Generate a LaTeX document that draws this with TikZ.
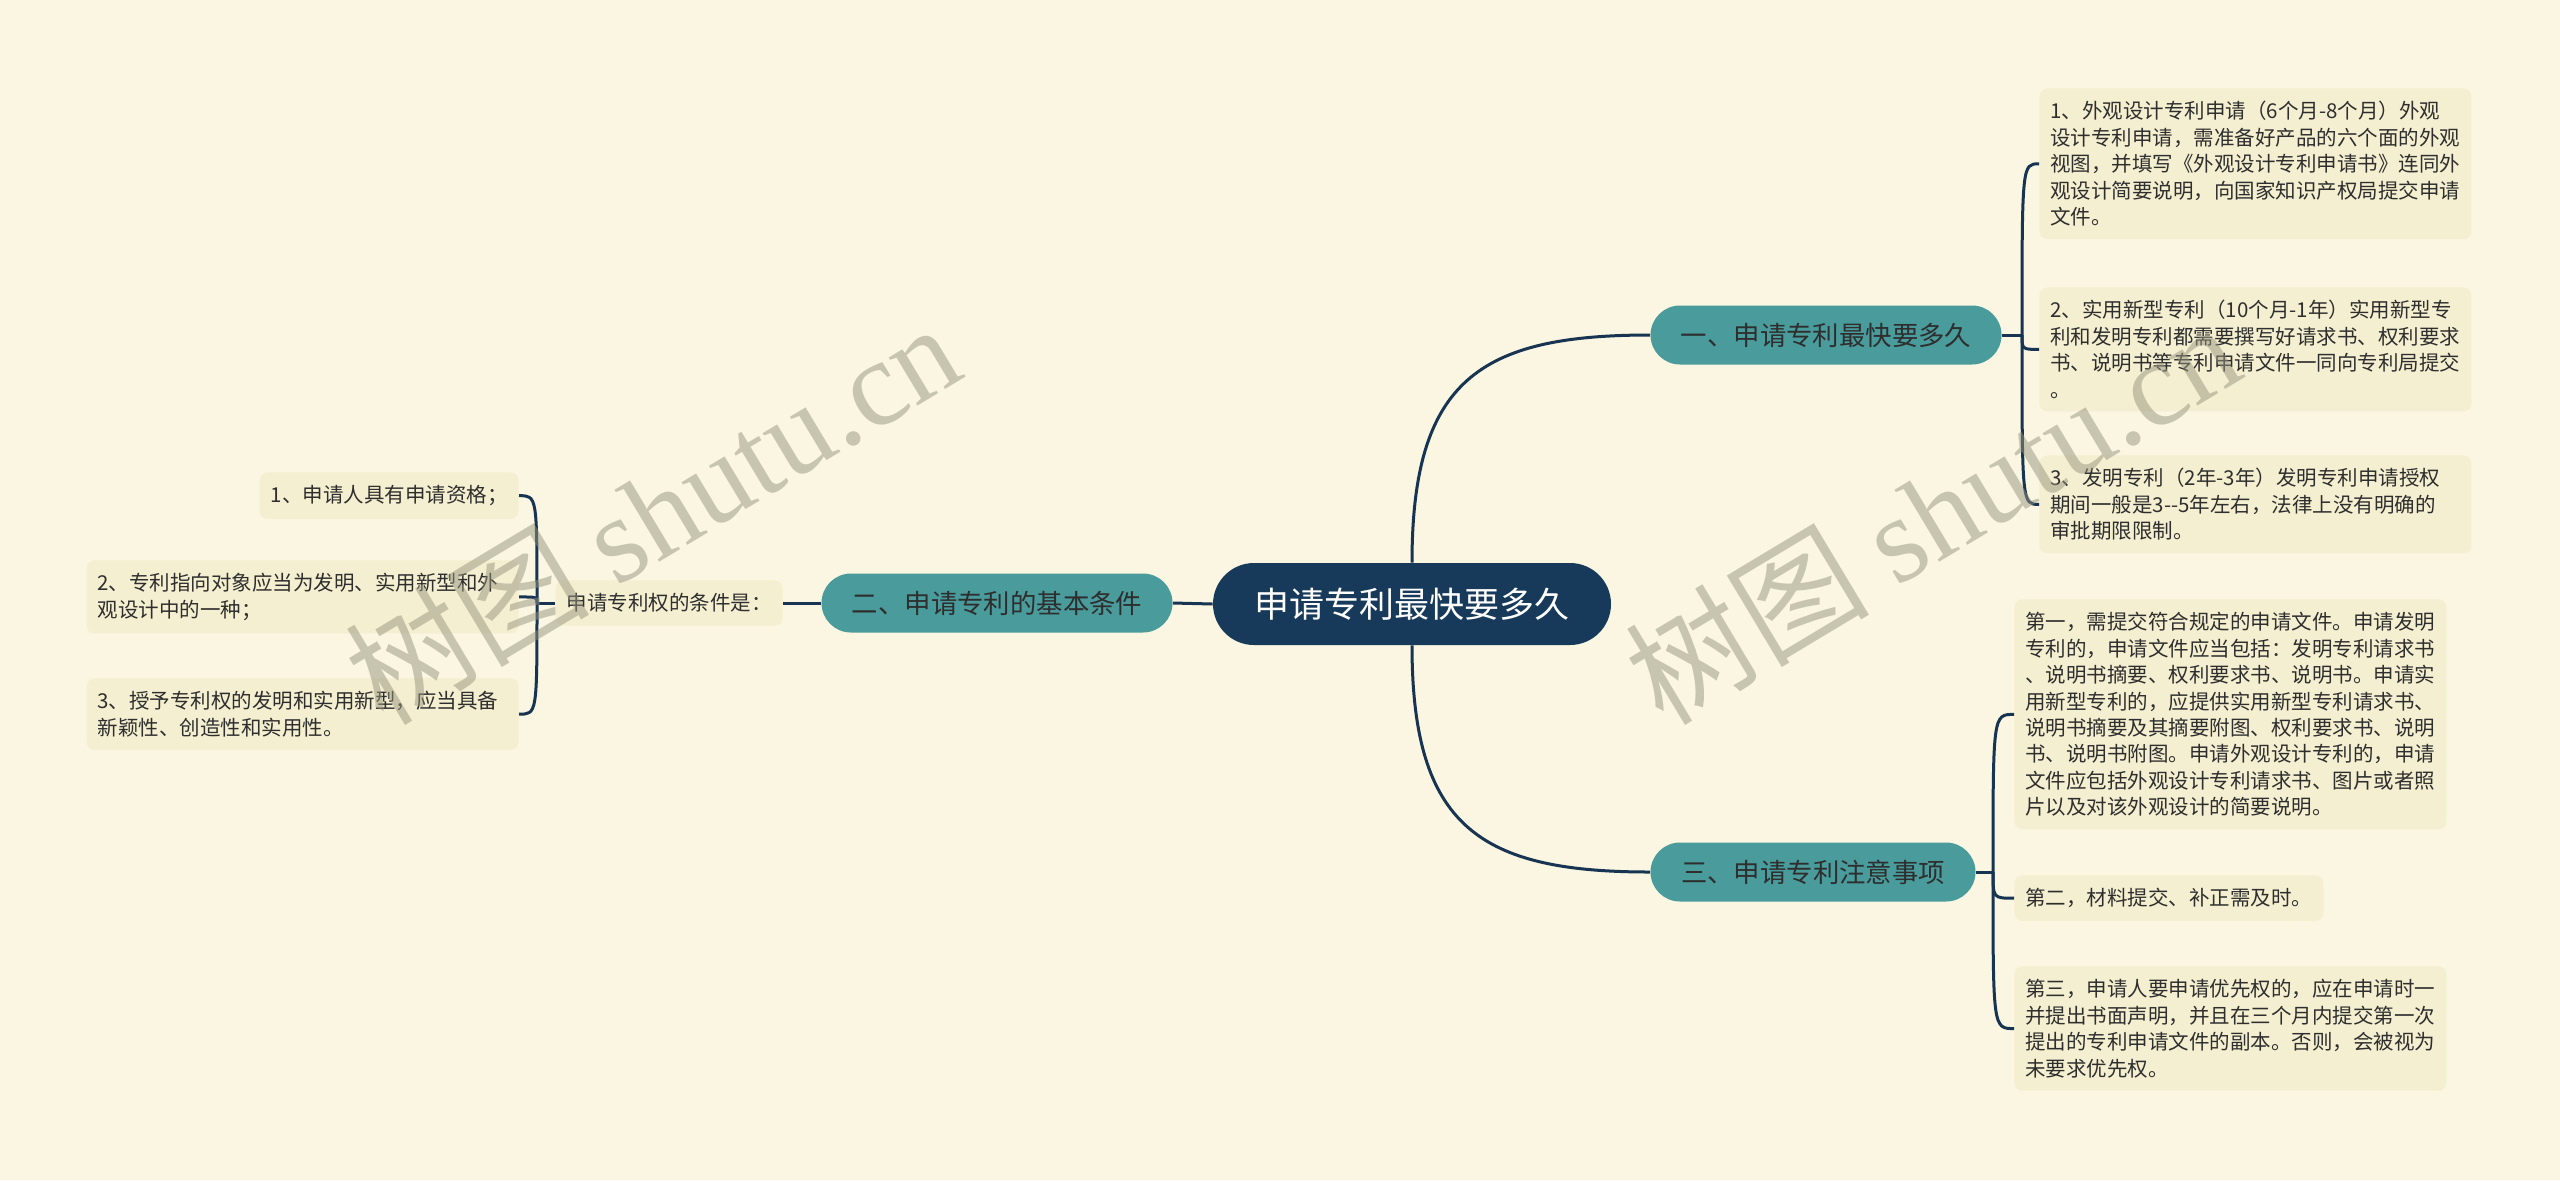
\documentclass[tikz,border=0pt]{standalone}
\usepackage{fontspec}
\setmainfont{Noto Sans CJK SC}
\newfontfamily\wmfont{Liberation Serif}
\definecolor{bg}{HTML}{FAF6E1}
\definecolor{leaffill}{HTML}{F4EFD0}
\definecolor{tealnode}{HTML}{4A9B9B}
\definecolor{rootc}{HTML}{173A5A}
\definecolor{linec}{HTML}{173452}
\definecolor{txt}{HTML}{2E2E2E}
\definecolor{wmc}{HTML}{96947F}
\tikzset{
  conn/.style={draw=linec, line width=1.5pt},
  leaf/.style={fill=leaffill, rounded corners=4pt, text=txt, align=left,
    inner xsep=5.5pt, inner ysep=6.5pt, font=\fontsize{10.25pt}{13.2pt}\selectfont},
  leafw/.style={leaf, text width=205pt},
  topic/.style={fill=tealnode, rounded corners=14.75pt, text=txt, minimum height=29.5pt,
    inner sep=0pt, font=\fontsize{13.2pt}{16pt}\selectfont},
  rootbox/.style={fill=rootc, rounded corners=20.5pt, text=white, minimum width=199pt,
    minimum height=41pt, inner sep=0pt, font=\fontsize{17.5pt}{20pt}\selectfont},
  wm/.style={text=wmc, opacity=0.5, font=\fontsize{61pt}{66pt}\selectfont, inner sep=0pt}
}
\begin{document}
\begin{tikzpicture}[x=0.5pt, y=-0.5pt]
\fill[bg] (0,0) rectangle (2560,1180);
\useasboundingbox (0,0) rectangle (2560,1180);

% main nodes
\node[rootbox] (root) at (1412,604) {申请专利最快要多久};
\node[topic, minimum width=175.5pt] (t1) at (1826,335) {一、申请专利最快要多久};
\node[topic, minimum width=175.5pt] (t2) at (997,603) {二、申请专利的基本条件};
\node[topic, minimum width=162.5pt] (t3) at (1813,872) {三、申请专利注意事项};

% right leaves of topic 1
\node[leafw, anchor=north west] (a1) at (2039,88) {1、外观设计专利申请（6个月-8个月）外观\\设计专利申请，需准备好产品的六个面的外观\\视图，并填写《外观设计专利申请书》连同外\\观设计简要说明，向国家知识产权局提交申请\\文件。};
\node[leafw, anchor=north west] (a2) at (2039,287) {2、实用新型专利（10个月-1年）实用新型专\\利和发明专利都需要撰写好请求书、权利要求\\书、说明书等专利申请文件一同向专利局提交\\。};
\node[leafw, anchor=north west] (a3) at (2039,455) {3、发明专利（2年-3年）发明专利申请授权\\期间一般是3-{}-5年左右，法律上没有明确的\\审批期限限制。};

% right leaves of topic 3
\node[leafw, anchor=north west] (c1) at (2014,599) {第一，需提交符合规定的申请文件。申请发明\\专利的，申请文件应当包括：发明专利请求书\\、说明书摘要、权利要求书、说明书。申请实\\用新型专利的，应提供实用新型专利请求书、\\说明书摘要及其摘要附图、权利要求书、说明\\书、说明书附图。申请外观设计专利的，申请\\文件应包括外观设计专利请求书、图片或者照\\片以及对该外观设计的简要说明。};
\node[leaf, anchor=north west] (c2) at (2014,875) {第二，材料提交、补正需及时。};
\node[leafw, anchor=north west] (c3) at (2014,966) {第三，申请人要申请优先权的，应在申请时一\\并提出书面声明，并且在三个月内提交第一次\\提出的专利申请文件的副本。否则，会被视为\\未要求优先权。};

% left side
\node[leaf, anchor=east] (lab) at (783,603) {申请专利权的条件是：};
\node[leaf, anchor=north east] (b1) at (519,472) {1、申请人具有申请资格；};
\node[leafw, anchor=north east] (b2) at (519,560) {2、专利指向对象应当为发明、实用新型和外\\观设计中的一种；};
\node[leafw, anchor=north east] (b3) at (519,678) {3、授予专利权的发明和实用新型，应当具备\\新颖性、创造性和实用性。};

% junctions
\coordinate (j1) at (2022,335);
\coordinate (j3) at (1993,872);
\coordinate (j2) at (537,603);

% connectors
\draw[conn] (root.north) .. controls (1412,380) and (1480,335) .. (t1.west);
\draw[conn] (root.south) .. controls (1412,827) and (1480,872) .. (t3.west);
\draw[conn] (root.west) -- (t2.east);
\draw[conn] (t2.west) -- (lab.east);
\draw[conn] (lab.west) -- (j2);
\draw[conn] (t1.east) -- (j1);
\draw[conn] (t3.east) -- (j3);
\foreach \n in {a1,a2,a3}
  \draw[conn] (j1) .. controls (j1 |- \n.west) .. (\n.west);
\foreach \n in {c1,c2,c3}
  \draw[conn] (j3) .. controls (j3 |- \n.west) .. (\n.west);
\foreach \n in {b1,b2,b3}
  \draw[conn] (j2) .. controls (j2 |- \n.east) .. (\n.east);

% watermarks
\node[wm, rotate=31] (wm1) at (652,512) {树图 {\wmfont shutu.cn}};
\node[wm, rotate=31] (wm2) at (1932,512) {树图 {\wmfont shutu.cn}};
\end{tikzpicture}
\end{document}
